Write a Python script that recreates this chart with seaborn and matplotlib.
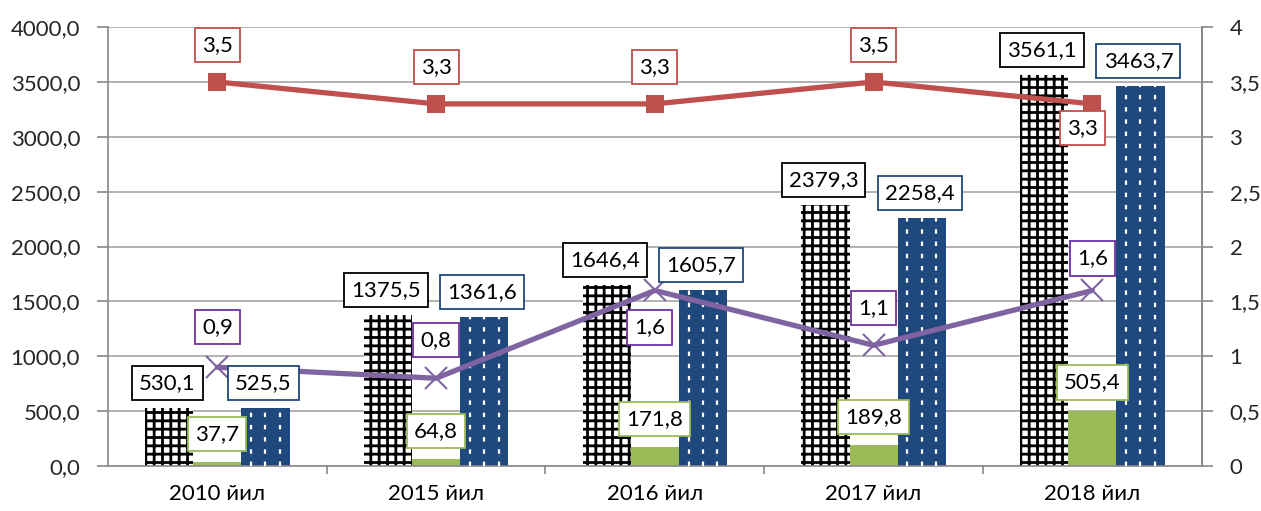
import numpy as np
import pandas as pd
import matplotlib
matplotlib.use("Agg")
import matplotlib.pyplot as plt
import seaborn as sns
from matplotlib.ticker import FixedLocator

# Data
years = ["2010 йил", "2015 йил", "2016 йил", "2017 йил", "2018 йил"]
series_black = [530.1, 1375.5, 1646.4, 2379.3, 3561.1]
series_green = [37.7, 64.8, 171.8, 189.8, 505.4]
series_blue = [525.5, 1361.6, 1605.7, 2258.4, 3463.7]
line_red = [3.5, 3.3, 3.3, 3.5, 3.3]
line_purple = [0.9, 0.8, 1.6, 1.1, 1.6]

bar_names = ["black", "green", "blue"]

# Colours
c_green = "#9BBB59"
c_blue = "#1F497D"
c_red = "#C0504D"
c_purple = "#8064A2"
c_grid = "#A6A6A6"

sns.set_theme(style="white")
plt.rcParams["font.family"] = ["Lato", "DejaVu Sans"]
plt.rcParams["hatch.linewidth"] = 2.0

df = pd.DataFrame({
    "year": years * 3,
    "series": [n for n in bar_names for _ in years],
    "value": series_black + series_green + series_blue,
})

fig = plt.figure(figsize=(12.61, 5.11), dpi=100)
ax = fig.add_axes([0.0856, 0.088, 0.8674, 0.859])

sns.barplot(data=df, x="year", y="value", hue="series", hue_order=bar_names,
            palette=["white", c_green, c_blue], width=0.66, ax=ax,
            legend=False, saturation=1)

# style bars: black grid hatch, solid green, blue with white dotted lines
for p in ax.containers[0]:
    p.set_facecolor("white")
    p.set_edgecolor("black")
    p.set_hatch("++")
    p.set_linewidth(0)
for p in ax.containers[1]:
    p.set_facecolor(c_green)
    p.set_linewidth(0)
for p in ax.containers[2]:
    p.set_facecolor(c_blue)
    p.set_linewidth(0)
    x0, w, h = p.get_x(), p.get_width(), p.get_height()
    for frac in (0.2, 0.5, 0.8):
        ax.plot([x0 + frac * w] * 2, [0, h], color="white", lw=1.6,
                ls=(0, (2, 3.5)), zorder=3)

ax.set_xlim(-0.5, len(years) - 0.5)
ax.set_ylim(0, 4000)
ax.set_yticks(np.arange(0, 4001, 500))
ax.set_yticklabels([f"{v:.1f}".replace(".", ",") for v in np.arange(0, 4001, 500)])
ax.yaxis.grid(True, color=c_grid, lw=1.2)
ax.set_axisbelow(True)
ax.set_xlabel("")
ax.set_ylabel("")
ax.tick_params(axis="x", length=0, labelsize=16, pad=13, colors="black")
ax.xaxis.set_minor_locator(FixedLocator(np.arange(0.5, len(years) - 1, 1)))
ax.tick_params(axis="x", which="minor", length=6, width=1.2, color="#888888",
               bottom=True)
ax.tick_params(axis="y", length=8, width=1.2, color="#888888", labelsize=16,
               pad=12, left=True)
for side in ["left", "bottom", "right"]:
    ax.spines[side].set_color("#888888")
    ax.spines[side].set_linewidth(1.2)
ax.spines["top"].set_visible(False)

# secondary axis with the two lines
ax2 = ax.twinx()
pos = np.arange(len(years))
sns.lineplot(x=pos, y=line_red, ax=ax2, color=c_red, lw=3.8, marker="s",
             markersize=13, markeredgewidth=0, zorder=4)
sns.lineplot(x=pos, y=line_purple, ax=ax2, color=c_purple, lw=3.8, marker="x",
             markersize=16, markeredgewidth=1.5, markeredgecolor=c_purple, zorder=4)
ax2.set_ylim(0, 4)
ax2.set_xlim(-0.5, len(years) - 0.5)
r_ticks = np.arange(0, 4.01, 0.5)
ax2.set_yticks(r_ticks)
ax2.set_yticklabels([(f"{v:g}").replace(".", ",") for v in r_ticks])
ax2.tick_params(axis="y", length=8, width=1.2, color="#888888", labelsize=16,
                pad=12, right=True)
ax2.grid(False)
for side in ["left", "bottom", "top"]:
    ax2.spines[side].set_visible(False)
ax2.spines["right"].set_color("#888888")
ax2.spines["right"].set_linewidth(1.2)
ax2.set_ylabel("")


def fmt(v):
    return f"{v:.1f}".replace(".", ",")


def label(x, y, text, edge, off, trans):
    ax2.annotate(text, xy=(x, y), xycoords=trans, xytext=off,
                 textcoords="offset pixels", ha="center", va="center",
                 fontsize=16, color="black", zorder=6,
                 bbox=dict(boxstyle="square,pad=0.32", fc="white", ec=edge, lw=1.3))


bw = 0.22
for i in range(len(years)):
    label(i - bw, series_black[i], fmt(series_black[i]), "black", (-2, 25), ax.transData)
    label(i + bw, series_blue[i], fmt(series_blue[i]), c_blue, (-2, 25), ax.transData)
    label(i, series_green[i], fmt(series_green[i]), c_green, (0, 28), ax.transData)

red_off = [(0, 37), (0, 37), (0, 37), (0, 37), (-10, -24)]
purple_off = [(0, 40), (0, 38), (-5, -37), (0, 37), (0, 32)]
for i in range(len(years)):
    label(i, line_red[i], fmt(line_red[i]), c_red, red_off[i], ax2.transData)
    label(i, line_purple[i], fmt(line_purple[i]), "#7030A0", purple_off[i], ax2.transData)

fig.savefig("out.png", dpi=100)
